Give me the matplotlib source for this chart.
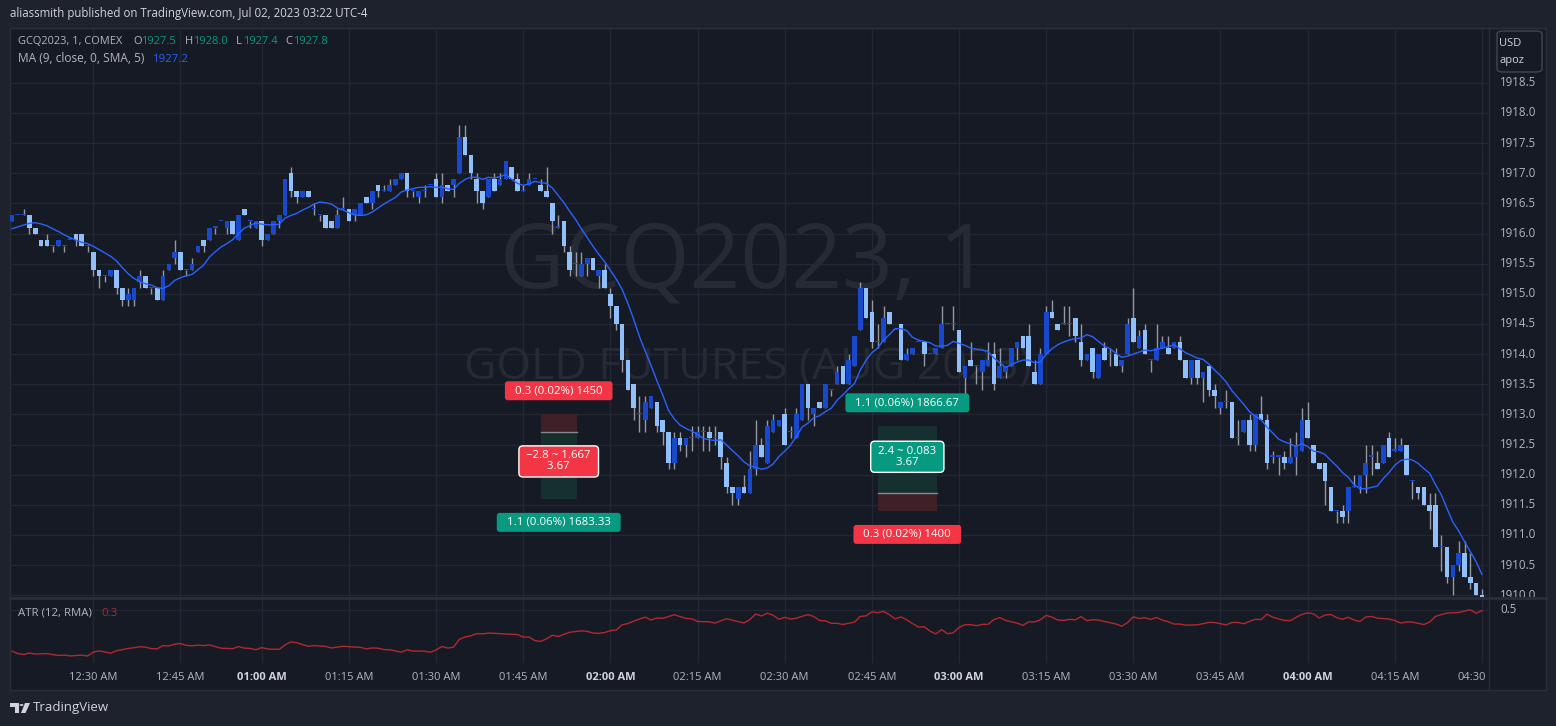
import numpy as np
import pandas as pd
import matplotlib
matplotlib.use("Agg")
import matplotlib.pyplot as plt
from matplotlib.patches import Rectangle, FancyBboxPatch, Polygon, Circle
import matplotlib.transforms as mtransforms

plt.rcParams['font.family'] = ['Open Sans', 'DejaVu Sans']

# ---------------- data (1-minute bars, GCQ2023) ----------------
opens = [
    1916.2, 1916.3, 1916.3, 1916.3, 1916.1, 1915.9, 1915.9, 1915.8, 1915.8, 1915.8,
    1915.9, 1916.0, 1916.0, 1915.8, 1915.7, 1915.4, 1915.3, 1915.3, 1915.4, 1915.1,
    1914.9, 1914.9, 1915.2, 1915.3, 1915.1, 1915.1, 1914.9, 1915.4, 1915.6, 1915.7,
    1915.4, 1915.4, 1915.7, 1915.9, 1915.9, 1916.1, 1916.2, 1916.1, 1916.2, 1915.9,
    1916.4, 1916.2, 1916.1, 1916.2, 1915.9, 1916.0, 1916.2, 1916.3, 1917.0, 1916.7,
    1916.6, 1916.7, 1916.4, 1916.3, 1916.3, 1916.2, 1916.1, 1916.4, 1916.4, 1916.3,
    1916.3, 1916.6, 1916.5, 1916.8, 1916.7, 1916.7, 1916.8, 1916.9, 1917.0, 1916.7,
    1916.6, 1916.7, 1916.8, 1916.9, 1916.6, 1916.8, 1916.8, 1917.0, 1917.6, 1917.3,
    1916.9, 1916.7, 1916.6, 1916.9, 1916.8, 1916.9, 1917.1, 1916.9, 1916.7, 1916.8,
    1916.9, 1916.8, 1916.7, 1916.5, 1916.1, 1916.2, 1915.7, 1915.5, 1915.3, 1915.5,
    1915.6, 1915.3, 1915.4, 1915.0, 1914.8, 1914.5, 1913.9, 1913.5, 1913.0, 1912.9,
    1913.1, 1913.2, 1912.9, 1912.7, 1912.2, 1912.6, 1912.5, 1912.6, 1912.6, 1912.7,
    1912.7, 1912.6, 1912.7, 1912.2, 1911.8, 1911.6, 1911.8, 1911.7, 1912.1, 1912.5,
    1912.2, 1912.7, 1912.8, 1913.0, 1912.7, 1912.6, 1912.9, 1913.5, 1913.0, 1913.2,
    1913.1, 1913.4, 1913.5, 1913.8, 1913.5, 1913.8, 1914.4, 1915.1, 1914.7, 1914.2,
    1914.2, 1914.7, 1914.4, 1914.5, 1913.9, 1914.0, 1914.2, 1914.2, 1914.0, 1914.0,
    1914.1, 1914.5, 1914.5, 1914.4, 1913.6, 1913.9, 1913.8, 1913.7, 1913.8, 1914.0,
    1913.6, 1913.7, 1913.8, 1914.1, 1914.3, 1914.3, 1913.7, 1913.5, 1914.0, 1914.7,
    1914.5, 1914.5, 1914.5, 1914.6, 1914.2, 1913.9, 1914.1, 1913.6, 1914.1, 1914.0,
    1914.0, 1913.8, 1914.0, 1914.6, 1914.1, 1914.4, 1913.9, 1913.9, 1914.1, 1914.1,
    1914.1, 1914.2, 1913.9, 1913.6, 1913.9, 1913.6, 1913.8, 1913.4, 1913.1, 1913.2,
    1913.2, 1912.6, 1912.7, 1912.9, 1912.5, 1913.0, 1912.9, 1912.3, 1912.3, 1912.3,
    1912.2, 1912.3, 1912.4, 1912.9, 1912.5, 1912.2, 1912.2, 1911.8, 1911.4, 1911.4,
    1911.4, 1911.8, 1911.8, 1912.0, 1912.3, 1912.2, 1912.2, 1912.6, 1912.4, 1912.4,
    1912.5, 1911.9, 1911.8, 1911.8, 1911.5, 1911.5, 1910.8, 1910.8, 1910.3, 1910.5,
    1910.7, 1910.3, 1910.2, 1910.0,
]
highs = [
    1916.3, 1916.3, 1916.4, 1916.3, 1916.1, 1915.9, 1916.0, 1915.8, 1915.9, 1915.8,
    1915.9, 1916.0, 1916.0, 1915.8, 1915.7, 1915.4, 1915.3, 1915.4, 1915.4, 1915.1,
    1915.1, 1915.1, 1915.4, 1915.3, 1915.1, 1915.1, 1915.4, 1915.5, 1915.9, 1915.7,
    1915.4, 1915.6, 1915.8, 1915.9, 1916.1, 1916.1, 1916.2, 1916.2, 1916.2, 1916.3,
    1916.4, 1916.2, 1916.2, 1916.2, 1916.0, 1916.2, 1916.3, 1916.9, 1917.1, 1916.7,
    1916.7, 1916.7, 1916.5, 1916.3, 1916.3, 1916.2, 1916.4, 1916.6, 1916.4, 1916.4,
    1916.5, 1916.6, 1916.7, 1916.8, 1916.8, 1916.9, 1916.9, 1917.0, 1917.0, 1916.7,
    1916.7, 1916.8, 1916.8, 1917.0, 1917.0, 1916.8, 1916.9, 1917.8, 1917.8, 1917.3,
    1917.0, 1916.7, 1916.9, 1917.0, 1917.0, 1917.2, 1917.1, 1917.0, 1916.8, 1917.0,
    1916.9, 1916.9, 1917.1, 1916.5, 1916.3, 1916.2, 1915.8, 1915.7, 1915.7, 1915.6,
    1915.6, 1915.4, 1915.5, 1915.1, 1914.8, 1914.5, 1913.9, 1913.5, 1913.3, 1913.3,
    1913.3, 1913.2, 1912.9, 1912.7, 1912.7, 1912.7, 1912.6, 1912.8, 1912.8, 1912.8,
    1912.8, 1912.8, 1912.7, 1912.3, 1911.8, 1911.8, 1912.0, 1912.4, 1912.9, 1912.6,
    1912.9, 1913.0, 1912.9, 1913.1, 1912.8, 1913.1, 1913.5, 1913.5, 1913.1, 1913.2,
    1913.5, 1913.4, 1913.8, 1913.8, 1914.0, 1914.3, 1915.2, 1915.1, 1914.9, 1914.5,
    1914.8, 1914.7, 1914.4, 1914.5, 1914.1, 1914.1, 1914.2, 1914.2, 1914.0, 1914.1,
    1914.8, 1914.5, 1914.8, 1914.4, 1913.8, 1914.2, 1913.8, 1913.9, 1914.2, 1914.2,
    1914.1, 1913.8, 1914.1, 1914.2, 1914.3, 1914.5, 1913.9, 1914.1, 1914.8, 1914.9,
    1914.5, 1914.8, 1914.8, 1914.6, 1914.5, 1914.0, 1914.1, 1914.0, 1914.2, 1914.1,
    1914.1, 1913.9, 1914.6, 1915.1, 1914.4, 1914.5, 1913.9, 1914.5, 1914.3, 1914.3,
    1914.2, 1914.3, 1913.9, 1913.9, 1913.9, 1913.7, 1913.8, 1913.5, 1913.2, 1913.4,
    1913.2, 1912.9, 1912.9, 1913.0, 1913.0, 1913.3, 1913.0, 1912.4, 1912.3, 1912.4,
    1912.6, 1912.7, 1913.1, 1913.2, 1912.5, 1912.2, 1912.2, 1911.8, 1911.4, 1911.5,
    1911.8, 1912.0, 1912.0, 1912.5, 1912.5, 1912.4, 1912.5, 1912.7, 1912.6, 1912.6,
    1912.5, 1911.9, 1911.8, 1911.8, 1911.7, 1911.7, 1911.0, 1910.8, 1910.5, 1910.9,
    1910.9, 1910.7, 1910.2, 1910.1,
]
lows = [
    1916.2, 1916.3, 1916.3, 1916.0, 1916.0, 1915.8, 1915.8, 1915.7, 1915.8, 1915.7,
    1915.9, 1915.8, 1915.8, 1915.7, 1915.3, 1915.1, 1915.2, 1915.3, 1915.0, 1914.8,
    1914.8, 1914.8, 1915.1, 1915.1, 1915.0, 1914.9, 1914.9, 1915.4, 1915.5, 1915.4,
    1915.3, 1915.4, 1915.7, 1915.7, 1915.9, 1916.0, 1916.2, 1916.0, 1916.0, 1915.9,
    1916.3, 1916.1, 1916.1, 1915.8, 1915.9, 1916.0, 1916.1, 1916.3, 1916.6, 1916.5,
    1916.6, 1916.6, 1916.3, 1916.2, 1916.1, 1916.1, 1916.1, 1916.4, 1916.2, 1916.2,
    1916.3, 1916.5, 1916.4, 1916.6, 1916.7, 1916.7, 1916.8, 1916.9, 1916.6, 1916.6,
    1916.5, 1916.6, 1916.8, 1916.6, 1916.5, 1916.7, 1916.6, 1917.0, 1917.3, 1916.9,
    1916.5, 1916.4, 1916.6, 1916.7, 1916.8, 1916.9, 1916.9, 1916.7, 1916.7, 1916.8,
    1916.9, 1916.7, 1916.6, 1916.0, 1916.1, 1915.7, 1915.3, 1915.3, 1915.3, 1915.3,
    1915.4, 1915.1, 1915.1, 1914.6, 1914.4, 1913.7, 1913.4, 1912.9, 1912.7, 1912.7,
    1913.1, 1912.7, 1912.5, 1912.1, 1912.1, 1912.4, 1912.3, 1912.4, 1912.6, 1912.4,
    1912.4, 1912.5, 1912.1, 1911.7, 1911.5, 1911.5, 1911.7, 1911.7, 1912.0, 1912.3,
    1912.2, 1912.7, 1912.8, 1912.5, 1912.6, 1912.6, 1912.9, 1912.9, 1912.8, 1913.1,
    1913.1, 1913.3, 1913.5, 1913.5, 1913.5, 1913.8, 1914.4, 1914.6, 1914.1, 1914.1,
    1914.2, 1914.5, 1914.4, 1913.9, 1913.9, 1914.0, 1914.2, 1913.8, 1914.0, 1914.0,
    1914.1, 1914.5, 1914.4, 1913.7, 1913.2, 1913.8, 1913.5, 1913.4, 1913.8, 1913.4,
    1913.6, 1913.6, 1913.8, 1913.9, 1914.1, 1913.8, 1913.5, 1913.5, 1914.0, 1914.6,
    1914.4, 1914.5, 1914.3, 1914.2, 1913.8, 1913.9, 1913.6, 1913.6, 1913.9, 1913.8,
    1913.8, 1913.7, 1914.0, 1914.2, 1914.1, 1914.0, 1913.7, 1913.9, 1914.1, 1914.0,
    1914.1, 1913.9, 1913.6, 1913.5, 1913.5, 1913.2, 1913.3, 1913.1, 1913.0, 1913.1,
    1912.6, 1912.5, 1912.7, 1912.4, 1912.4, 1912.9, 1912.1, 1912.2, 1912.0, 1912.1,
    1912.2, 1912.0, 1912.4, 1912.6, 1912.2, 1912.1, 1911.5, 1911.4, 1911.2, 1911.2,
    1911.2, 1911.8, 1911.7, 1911.7, 1912.0, 1912.1, 1912.2, 1912.3, 1912.4, 1912.4,
    1912.0, 1911.6, 1911.6, 1911.5, 1911.1, 1910.8, 1910.4, 1910.2, 1910.0, 1910.4,
    1910.3, 1910.1, 1910.0, 1909.4,
]
closes = [
    1916.3, 1916.3, 1916.3, 1916.1, 1916.0, 1915.8, 1915.8, 1915.8, 1915.9, 1915.8,
    1915.9, 1915.9, 1915.8, 1915.8, 1915.4, 1915.3, 1915.3, 1915.4, 1915.1, 1914.9,
    1915.0, 1915.1, 1915.3, 1915.1, 1915.1, 1914.9, 1915.3, 1915.5, 1915.7, 1915.4,
    1915.4, 1915.5, 1915.8, 1915.8, 1916.1, 1916.1, 1916.2, 1916.2, 1916.0, 1916.3,
    1916.3, 1916.2, 1916.2, 1915.9, 1916.0, 1916.2, 1916.3, 1916.9, 1916.7, 1916.6,
    1916.7, 1916.6, 1916.4, 1916.3, 1916.1, 1916.1, 1916.3, 1916.4, 1916.2, 1916.4,
    1916.5, 1916.5, 1916.7, 1916.7, 1916.7, 1916.8, 1916.9, 1917.0, 1916.7, 1916.7,
    1916.7, 1916.7, 1916.8, 1916.6, 1916.8, 1916.7, 1916.9, 1917.6, 1917.3, 1917.0,
    1916.7, 1916.5, 1916.9, 1916.7, 1916.9, 1917.2, 1916.9, 1916.7, 1916.7, 1916.9,
    1916.9, 1916.7, 1916.6, 1916.2, 1916.1, 1915.8, 1915.4, 1915.5, 1915.5, 1915.6,
    1915.4, 1915.4, 1915.1, 1914.8, 1914.5, 1913.9, 1913.4, 1913.1, 1913.0, 1913.2,
    1913.3, 1912.8, 1912.7, 1912.2, 1912.6, 1912.5, 1912.6, 1912.6, 1912.7, 1912.7,
    1912.6, 1912.6, 1912.3, 1911.8, 1911.7, 1911.8, 1911.7, 1912.1, 1912.5, 1912.3,
    1912.8, 1912.9, 1912.9, 1912.5, 1912.7, 1913.0, 1913.5, 1913.1, 1913.1, 1913.1,
    1913.5, 1913.4, 1913.7, 1913.5, 1913.9, 1914.3, 1915.1, 1914.6, 1914.2, 1914.2,
    1914.6, 1914.5, 1914.4, 1913.9, 1914.0, 1914.1, 1914.2, 1914.0, 1914.0, 1914.1,
    1914.5, 1914.5, 1914.5, 1913.7, 1913.8, 1913.8, 1913.8, 1913.9, 1913.9, 1913.5,
    1913.8, 1913.8, 1914.1, 1914.2, 1914.1, 1913.8, 1913.5, 1914.0, 1914.7, 1914.6,
    1914.4, 1914.5, 1914.5, 1914.3, 1913.9, 1914.0, 1913.7, 1914.0, 1913.9, 1914.0,
    1913.8, 1913.9, 1914.5, 1914.2, 1914.3, 1914.0, 1913.9, 1914.1, 1914.2, 1914.0,
    1914.2, 1913.9, 1913.6, 1913.9, 1913.6, 1913.7, 1913.4, 1913.3, 1913.2, 1913.2,
    1912.6, 1912.6, 1912.9, 1912.5, 1913.0, 1912.9, 1912.2, 1912.3, 1912.3, 1912.2,
    1912.3, 1912.5, 1912.9, 1912.6, 1912.2, 1912.1, 1911.9, 1911.4, 1911.4, 1911.3,
    1911.8, 1911.8, 1912.0, 1912.2, 1912.3, 1912.1, 1912.5, 1912.3, 1912.4, 1912.5,
    1912.0, 1911.9, 1911.7, 1911.5, 1911.4, 1910.8, 1910.8, 1910.3, 1910.5, 1910.7,
    1910.3, 1910.2, 1910.0, 1909.5,
]
# MA values of the first bars (window needs earlier history)
ma_lead = [1916.08, 1916.11, 1916.14, 1916.17, 1916.18, 1916.16, 1916.13, 1916.08]
atr_seed = 0.20

time_labels = ["12:30 AM", "12:45 AM", "01:00 AM", "01:15 AM", "01:30 AM", "01:45 AM",
               "02:00 AM", "02:15 AM", "02:30 AM", "02:45 AM", "03:00 AM", "03:15 AM",
               "03:30 AM", "03:45 AM", "04:00 AM", "04:15 AM", "04:30"]
time_label_bars = [14, 29, 43, 58, 73, 88, 103, 118, 133, 148, 163, 178, 193, 208, 223, 238, 253]
price_ticks = [1910.0, 1910.5, 1911.0, 1911.5, 1912.0, 1912.5, 1913.0, 1913.5, 1914.0,
               1914.5, 1915.0, 1915.5, 1916.0, 1916.5, 1917.0, 1917.5, 1918.0, 1918.5]
atr_ticks = [0.5]

# position tools (short, long)
zone_left = [91.0, 149.0]
zone_right = [97.2, 159.2]
zone_entry = [1912.7, 1911.7]
zone_stop = [1913.0, 1911.4]
zone_target = [1911.6, 1912.8]
zone_stop_text = ["0.3 (0.02%) 1450", "0.3 (0.02%) 1400"]
zone_target_text = ["1.1 (0.06%) 1683.33", "1.1 (0.06%) 1866.67"]
zone_mid_text = ["\u22122.8 ~ 1.667\n3.67", "2.4 ~ 0.083\n3.67"]
zone_mid_positive = [False, True]

# ---------------- styling ----------------
W, H, DPI = 1556, 726, 100
FRAME = '#1e222d'
PANE = '#161a25'
GRID = '#232733'
BORDER = '#2a2e39'
TXT = '#b2b5be'
TXT2 = '#d1d4dc'
UP = '#1848cc'
DOWN = '#90bff9'
WICK = '#9598a1'
MA_C = '#2962ff'
GREEN = '#089981'
RED = '#f23645'
ATR_C = '#b2282f'
WM = '#262a35'

def fx(px):
    return px / W

def fy(py):
    return 1 - py / H

o = np.array(opens); h = np.array(highs); l = np.array(lows); c = np.array(closes)
n = len(c)
idx = np.arange(n)

# indicators: SMA(9) of close, ATR(12) with RMA smoothing
ma = pd.Series(c).rolling(9).mean().to_numpy()
ma[:len(ma_lead)] = ma_lead
prev_c = np.concatenate([[c[0]], c[:-1]])
tr = np.maximum(h - l, np.maximum(np.abs(h - prev_c), np.abs(l - prev_c)))
atr = np.zeros(n)
atr[0] = atr_seed
for i in range(1, n):
    atr[i] = (atr[i - 1] * 11 + tr[i]) / 12

fig = plt.figure(figsize=(W / DPI, H / DPI), dpi=DPI)
fig.patch.set_facecolor(FRAME)

# inner chart background
fig.add_artist(Rectangle((fx(10), fy(690)), fx(1546) - fx(10), fy(28) - fy(690),
                         transform=fig.transFigure, facecolor=PANE, edgecolor=BORDER,
                         lw=1, zorder=0))

X0, X1 = -0.34, 254.04
Y0, Y1 = 1909.97, 1919.41

ax = fig.add_axes([fx(10), fy(597), fx(1488) - fx(10), fy(28) - fy(597)])
ax.set_facecolor('none')
ax.set_xlim(X0, X1)
ax.set_ylim(Y0, Y1)
for s in ax.spines.values():
    s.set_visible(False)
ax.set_xticks([]); ax.set_yticks([])

for p in price_ticks:
    ax.axhline(p, color=GRID, lw=1, zorder=1)
for b in time_label_bars:
    ax.axvline(b, color=GRID, lw=1, zorder=1)

# watermark
ax.text(0.497, 0.585, "GCQ2023, 1", transform=ax.transAxes, ha='center', va='center',
        fontsize=64, color=WM, zorder=1)
ax.text(0.4993, 0.402, "GOLD FUTURES (AUG 2023)", transform=ax.transAxes, ha='center',
        va='center', fontsize=32, color=WM, zorder=1)

# position tools
RED_Z = '#3f2029'
GRN_Z = '#15302e'
for k in range(len(zone_left)):
    x0, x1 = zone_left[k], zone_right[k]
    e, s_, t = zone_entry[k], zone_stop[k], zone_target[k]
    ax.add_patch(Rectangle((x0, min(e, s_)), x1 - x0, abs(s_ - e), facecolor=RED_Z,
                           edgecolor='none', zorder=2))
    ax.add_patch(Rectangle((x0, min(e, t)), x1 - x0, abs(t - e), facecolor=GRN_Z,
                           edgecolor='none', zorder=2))
    ax.plot([x0, x1], [e, e], color='#868993', lw=1, zorder=2.5)

# candles
body_w = 0.8
ax.vlines(idx, l, h, color=WICK, lw=1, zorder=3)
up = c >= o
bh = np.maximum(np.abs(c - o), 0.018)
bottom = np.minimum(o, c)
ax.bar(idx[up], bh[up], bottom=bottom[up], width=body_w, color=UP, lw=0, zorder=4)
ax.bar(idx[~up], bh[~up], bottom=bottom[~up], width=body_w, color=DOWN, lw=0, zorder=4)

# MA line
ax.plot(idx, ma, color=MA_C, lw=1.0, zorder=5)

# zone labels
for k in range(len(zone_left)):
    xc = (zone_left[k] + zone_right[k]) / 2
    e, s_, t = zone_entry[k], zone_stop[k], zone_target[k]
    top = max(s_, t); bot = min(s_, t)
    top_txt = zone_stop_text[k] if s_ > t else zone_target_text[k]
    bot_txt = zone_target_text[k] if s_ > t else zone_stop_text[k]
    top_col = RED if s_ > t else GREEN
    bot_col = GREEN if s_ > t else RED
    ax.annotate("  " + top_txt + "  ", xy=(xc, top), xytext=(0, 17), textcoords='offset points',
                ha='center', va='center', fontsize=8.2, color='white', zorder=7,
                bbox=dict(boxstyle='round,pad=0.35,rounding_size=0.25', fc=top_col, ec='none'))
    ax.annotate("  " + bot_txt + "  ", xy=(xc, bot), xytext=(0, -17), textcoords='offset points',
                ha='center', va='center', fontsize=8.2, color='white', zorder=7,
                bbox=dict(boxstyle='round,pad=0.35,rounding_size=0.25', fc=bot_col, ec='none'))
    mc = GREEN if zone_mid_positive[k] else RED
    ax.annotate(" " + zone_mid_text[k].replace("\n", " \n ") + " ", xy=(xc, (e + t) / 2),
                xytext=(0, 2 if zone_mid_positive[k] else 3), textcoords='offset points',
                ha='center', va='center', fontsize=8.2, color='white', zorder=7,
                linespacing=1.0,
                bbox=dict(boxstyle='round,pad=0.4,rounding_size=0.35', fc=mc, ec='white', lw=1))

# price axis
pax = fig.add_axes([fx(1488), fy(597), fx(1546) - fx(1488), fy(28) - fy(597)])
pax.set_facecolor('none'); pax.axis('off')
pax.set_xlim(0, 1); pax.set_ylim(Y0, Y1)
for p in price_ticks:
    pax.text(12 / 58, p, f"{p:.1f}", ha='left', va='center', fontsize=8.3, color=TXT,
             clip_on=True)

# USD box
fig.add_artist(FancyBboxPatch((fx(1497), fy(72)), fx(1542) - fx(1497), fy(31) - fy(72),
                              boxstyle='round,pad=0,rounding_size=0.004',
                              transform=fig.transFigure, facecolor=PANE, edgecolor='#434651',
                              lw=1, zorder=3))
fig.text(fx(1499), fy(43), "USD", ha='left', va='center', fontsize=8, color=TXT2, zorder=4)
fig.text(fx(1499), fy(61), "apoz", ha='left', va='center', fontsize=8, color=TXT2, zorder=4)

# ATR pane: scale so the 0.5 level sits at y=609.5 px and the minimum near y=656 px
A_TOP_PX, A_BOT_PX = 598, 663
amin = atr.min()
rng = (A_BOT_PX - A_TOP_PX) * (0.5 - amin) / (656 - 609.5)
a_top = 0.5 + (609.5 - A_TOP_PX) * rng / (A_BOT_PX - A_TOP_PX)
a_bot = a_top - rng

aax = fig.add_axes([fx(10), fy(A_BOT_PX), fx(1488) - fx(10), fy(A_TOP_PX) - fy(A_BOT_PX)])
aax.set_facecolor('none')
for s in aax.spines.values():
    s.set_visible(False)
aax.set_xticks([]); aax.set_yticks([])
aax.set_xlim(X0, X1)
aax.set_ylim(a_bot, a_top)
for v in atr_ticks:
    aax.axhline(v, color=GRID, lw=1, zorder=1)
for b in time_label_bars:
    aax.axvline(b, color=GRID, lw=1, zorder=1)
aax.plot(idx, atr, color=ATR_C, lw=1.0, zorder=3)

apx = fig.add_axes([fx(1488), fy(A_BOT_PX), fx(1546) - fx(1488), fy(A_TOP_PX) - fy(A_BOT_PX)])
apx.set_facecolor('none'); apx.axis('off')
apx.set_xlim(0, 1); apx.set_ylim(a_bot, a_top)
for v in atr_ticks:
    apx.text(12 / 58, v, f"{v:.1f}", ha='left', va='center', fontsize=8.3, color=TXT, clip_on=True)

# separators
fig.add_artist(plt.Line2D([fx(10), fx(1546)], [fy(597.5), fy(597.5)], transform=fig.transFigure,
                          color=BORDER, lw=2, zorder=6))
fig.add_artist(plt.Line2D([fx(1488.5), fx(1488.5)], [fy(28), fy(690)], transform=fig.transFigure,
                          color=BORDER, lw=1, zorder=6))
fig.add_artist(plt.Line2D([fx(10), fx(1546)], [fy(27.5), fy(27.5)], transform=fig.transFigure,
                          color=BORDER, lw=1, zorder=6))

# time labels
tt = mtransforms.blended_transform_factory(aax.transData, fig.transFigure)
for lab, b in zip(time_labels, time_label_bars):
    bold = lab in ("01:00 AM", "02:00 AM", "03:00 AM", "04:00 AM")
    if lab == "04:30":
        fig.text(fx(1486), fy(677), lab, ha='right', va='center', fontsize=8, color=TXT)
        continue
    fig.text(b, fy(677), lab, transform=tt, ha='center', va='center', fontsize=8,
             color=TXT2 if bold else TXT, fontweight='bold' if bold else 'normal')

# header and legends
fig.text(fx(10), fy(14), "aliassmith published on TradingView.com, Jul 02, 2023 03:22 UTC-4",
         ha='left', va='center', fontsize=8.3, color=TXT2)

def ptxt(x, y, s, col, size=8.0):
    fig.text(fx(x), fy(y), s, ha='left', va='center', fontsize=size, color=col, zorder=8)

ptxt(18, 42, "GCQ2023, 1, COMEX", TXT, 7.9)
ptxt(133, 42, "O", TXT); ptxt(141, 42, "1927.5", GREEN)
ptxt(185, 42, "H", TXT); ptxt(193, 42, "1928.0", GREEN)
ptxt(236, 42, "L", TXT); ptxt(243, 42, "1927.4", GREEN)
ptxt(285, 42, "C", TXT); ptxt(293, 42, "1927.8", GREEN)
ptxt(18, 59, "MA (9, close, 0, SMA, 5)", TXT, 8.6)
ptxt(153, 59, "1927.2", MA_C, 8.2)
ptxt(18, 613, "ATR (12, RMA)", TXT, 8.2)
ptxt(101, 613, "0.3", ATR_C, 8.2)

# TradingView logo + text
lc = '#d1d4dc'
fig.add_artist(Polygon([(fx(10), fy(703)), (fx(19), fy(703)), (fx(19), fy(713)), (fx(15), fy(713)),
                        (fx(15), fy(707)), (fx(10), fy(707))], closed=True,
                       transform=fig.transFigure, facecolor=lc, edgecolor='none'))
fig.add_artist(Circle((fx(21.5), fy(705)), 2.0 / W, transform=fig.transFigure,
                      facecolor=lc, edgecolor='none'))
fig.add_artist(Polygon([(fx(25), fy(703)), (fx(30), fy(703)), (fx(25.5), fy(713)), (fx(21), fy(713))],
                       closed=True, transform=fig.transFigure, facecolor=lc, edgecolor='none'))
fig.text(fx(33), fy(708), "TradingView", ha='left', va='center', fontsize=9.5, color=lc)

fig.savefig("out.png", dpi=DPI, facecolor=FRAME)
